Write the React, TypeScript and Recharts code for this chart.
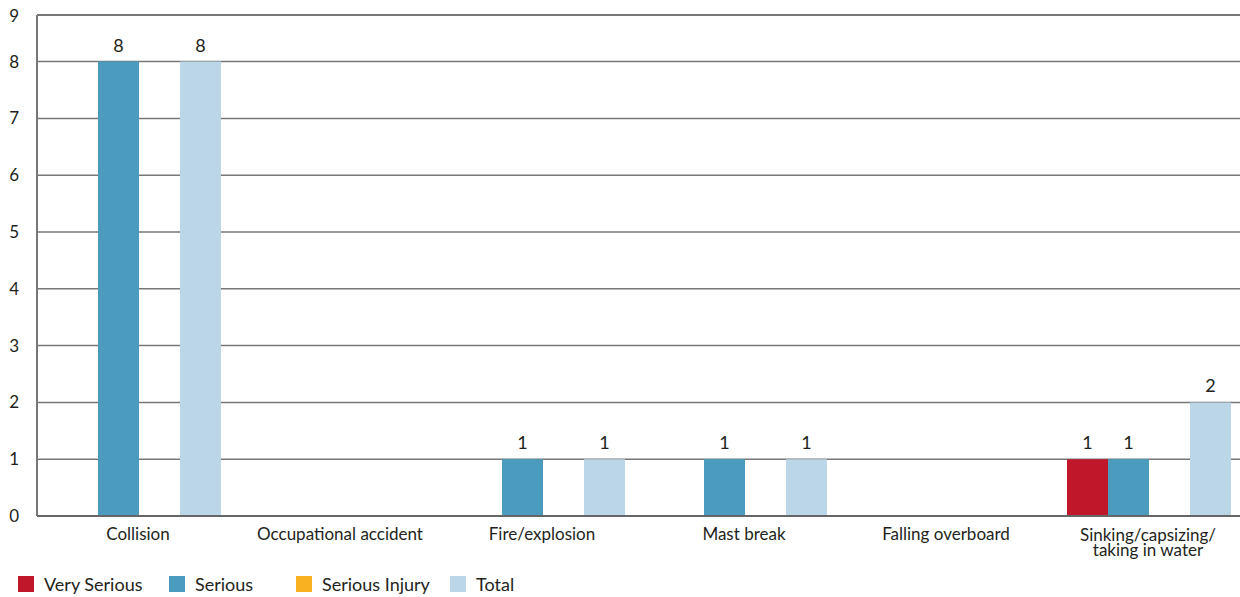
import React from "react";
import { BarChart, Bar, XAxis, YAxis, CartesianGrid, LabelList, ReferenceLine } from "recharts";

const categories = [
  "Collision",
  "Occupational accident",
  "Fire/explosion",
  "Mast break",
  "Falling overboard",
  "Sinking/capsizing/\ntaking in water",
];
const verySerious = [0, 0, 0, 0, 0, 1];
const serious = [8, 0, 1, 1, 0, 1];
const seriousInjury = [0, 0, 0, 0, 0, 0];
const total = [8, 0, 1, 1, 0, 2];
const yTicks = [0, 1, 2, 3, 4, 5, 6, 7, 8, 9];
const gridValues = [0, 1, 2, 3, 4, 5, 6, 7, 8];
const yAxisMax = 8.82;

const seriesDefs = [
  { key: "verySerious", name: "Very Serious", color: "#C0172A" },
  { key: "serious", name: "Serious", color: "#4A9BBE" },
  { key: "seriousInjury", name: "Serious Injury", color: "#F9B121" },
  { key: "total", name: "Total", color: "#BAD6E7" },
];
const legendLeft = [18, 169, 296, 450];

const data = categories.map((c, i) => ({
  name: c,
  verySerious: verySerious[i],
  serious: serious[i],
  seriousInjury: seriousInjury[i],
  total: total[i],
}));

const FONT = "Lato, 'Open Sans', sans-serif";
const TEXT = "#231f20";
const PLOT_TOP = 15;

const XTick = (props: any) => {
  const { x, y, payload } = props;
  const lines = String(payload.value).split("\n");
  const multi = lines.length > 1;
  return (
    <text x={x} y={y} textAnchor="middle" fill={TEXT} fontSize={17} fontFamily={FONT}>
      {lines.map((l, i) => (
        <tspan key={i} x={x} dy={i === 0 ? (multi ? 25 : 24) : 15}>
          {l}
        </tspan>
      ))}
    </text>
  );
};

const YTick = (props: any) => {
  const { x, y, payload } = props;
  const yy = Math.max(y, PLOT_TOP + 1);
  return (
    <text x={x} y={yy} dy={6} textAnchor="end" fill={TEXT} fontSize={17} fontFamily={FONT}>
      {payload.value}
    </text>
  );
};

const fmt = (v: any) => (v ? v : "");

export default function App() {
  return (
    <div
      style={{
        position: "absolute",
        left: 0,
        top: 0,
        width: 1240,
        height: 597,
        background: "#fff",
        overflow: "hidden",
      }}
    >
      <BarChart
        width={1249}
        height={597}
        data={data}
        margin={{ top: PLOT_TOP, right: 0, left: 0, bottom: 51 }}
        barCategoryGap="9.9%"
        barGap={0}
      >
        <CartesianGrid vertical={false} stroke="#777" strokeWidth={1.5} horizontalValues={gridValues} />
        <ReferenceLine y={yAxisMax} stroke="#777" strokeWidth={2} ifOverflow="extendDomain" />
        <XAxis
          dataKey="name"
          height={30}
          tickLine={false}
          tickSize={0}
          tickMargin={0}
          axisLine={{ stroke: "#666", strokeWidth: 2 }}
          tick={<XTick />}
          interval={0}
        />
        <YAxis
          width={37}
          domain={[0, yAxisMax]}
          allowDataOverflow
          ticks={yTicks}
          tickLine={false}
          tickSize={0}
          tickMargin={18}
          axisLine={{ stroke: "#777", strokeWidth: 2 }}
          tick={<YTick />}
          interval={0}
        />
        {seriesDefs.map((s) => (
          <Bar key={s.key} dataKey={s.key} name={s.name} fill={s.color} isAnimationActive={false}>
            <LabelList
              dataKey={s.key}
              position="top"
              offset={10}
              formatter={fmt}
              style={{ fill: TEXT, fontSize: 18, fontFamily: FONT }}
            />
          </Bar>
        ))}
      </BarChart>
      {seriesDefs.map((s, i) => (
        <div
          key={s.key}
          style={{
            position: "absolute",
            left: legendLeft[i],
            top: 576,
            display: "flex",
            alignItems: "center",
            fontFamily: FONT,
            fontSize: 18,
            color: TEXT,
            whiteSpace: "nowrap",
          }}
        >
          <div style={{ width: 16, height: 16, background: s.color, marginRight: 10 }} />
          <span style={{ lineHeight: "16px" }}>{s.name}</span>
        </div>
      ))}
    </div>
  );
}
